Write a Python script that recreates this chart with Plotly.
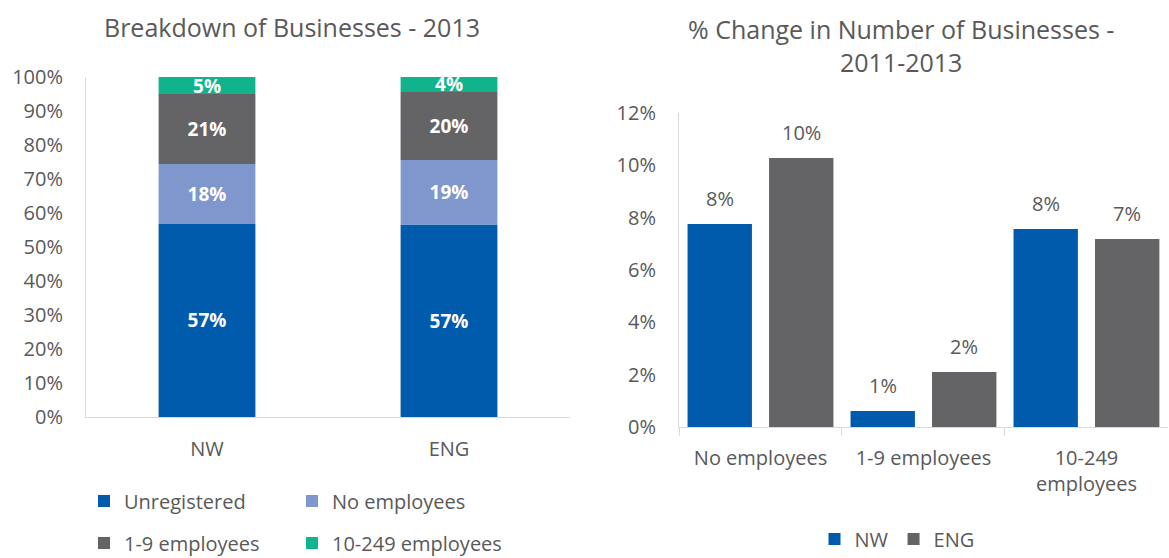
import plotly.graph_objects as go

# Left chart: share of businesses by size band, 2013
regions = ["NW", "ENG"]
unregistered = [0.568, 0.566]
no_employees = [0.176, 0.190]
emp_1_9 = [0.206, 0.200]
emp_10_249 = [0.050, 0.044]

# Right chart: % change in number of businesses, 2011-2013
size_bands = ["No employees", "1-9 employees", "10-249<br>employees"]
change_nw = [0.0776, 0.0061, 0.0757]
change_eng = [0.1028, 0.0210, 0.0718]

BLUE = "#005BAC"
LIGHT_BLUE = "#8097CE"
GREY = "#646466"
GREEN = "#10B38B"
TEXT = "#595959"
AXIS = "#D9D9D9"
FONT = "'Open Sans', sans-serif"

W, H = 1169, 558

fig = go.Figure()

# Stacked columns: each segment starts where the previous one ends.
# Each series gets its own legend box so the key forms a 2x2 grid.
stack = [
    ("Unregistered", unregistered, BLUE, "legend", (84, 501)),
    ("No employees", no_employees, LIGHT_BLUE, "legend2", (292, 501)),
    ("1-9 employees", emp_1_9, GREY, "legend3", (84, 543)),
    ("10-249 employees", emp_10_249, GREEN, "legend4", (292, 543)),
]
legend_font = dict(size=20, color=TEXT, family=FONT)
legend_boxes = {}
running = [0.0] * len(regions)
for name, vals, color, leg, (lx, ly) in stack:
    fig.add_trace(go.Bar(
        x=regions, y=vals, base=list(running), name=name, offsetgroup="stack", width=0.4,
        marker=dict(color=color, line=dict(width=0)),
        texttemplate="%{y:.0%}", textposition="inside", insidetextanchor="middle",
        constraintext="none", textangle=0,
        textfont=dict(color="white", size=19, family=FONT, weight="bold"),
        xaxis="x", yaxis="y", legend=leg, showlegend=True, hoverinfo="skip",
    ))
    running = [r + v for r, v in zip(running, vals)]
    legend_boxes[leg] = dict(orientation="h", x=lx / W, xanchor="left", y=1 - ly / H,
                             yanchor="middle", font=legend_font,
                             bgcolor="rgba(0,0,0,0)")

for name, vals, color in [("NW", change_nw, BLUE), ("ENG", change_eng, GREY)]:
    fig.add_trace(go.Bar(
        x=size_bands, y=vals, name=name, marker=dict(color=color, line=dict(width=0)),
        xaxis="x2", yaxis="y2", legend="legend5", showlegend=True, hoverinfo="skip",
    ))

# Value labels above the grouped bars
n_series = 2
groupgap = 0.21
x2_domain = [679 / W, 0.9991]
cat_px = (x2_domain[1] - x2_domain[0]) * W / len(size_bands)
slot = cat_px / n_series
for j, vals in enumerate([change_nw, change_eng]):
    shift = (j - (n_series - 1) / 2) * slot
    for cat, v in zip(size_bands, vals):
        fig.add_annotation(
            x=cat, y=v, xref="x2", yref="y2", text=f"{v:.0%}", showarrow=False,
            xanchor="center", yanchor="bottom", xshift=shift, yshift=10,
            font=dict(size=20, color=TEXT, family=FONT),
        )

# Chart titles
fig.add_annotation(x=292 / W, y=1 - 27 / H, xref="paper", yref="paper",
                   text="Breakdown of Businesses - 2013", showarrow=False,
                   xanchor="center", yanchor="middle",
                   font=dict(size=25, color=TEXT, family=FONT))
fig.add_annotation(x=901 / W, y=1 - 45 / H, xref="paper", yref="paper",
                   text="% Change in Number of Businesses -<br>2011-2013", showarrow=False,
                   xanchor="center", yanchor="middle",
                   font=dict(size=25, color=TEXT, family=FONT))

tick_font = dict(size=20, color=TEXT, family=FONT)
fig.update_layout(
    width=W, height=H,
    margin=dict(l=0, r=0, t=0, b=0, autoexpand=False),
    paper_bgcolor="white", plot_bgcolor="white",
    showlegend=True,
    barmode="group",
    bargap=0.0, bargroupgap=groupgap,
    font=dict(family=FONT, color=TEXT, size=20),
    xaxis=dict(domain=[86 / W, 570 / W], anchor="y", showline=True, linecolor=AXIS,
               linewidth=1, ticks="", showgrid=False, ticklabelstandoff=14,
               tickfont=legend_font),
    yaxis=dict(domain=[(H - 417) / H, (H - 77) / H], anchor="x", range=[0, 1],
               dtick=0.1, tickformat=".0%", showline=True, linecolor=AXIS,
               showgrid=False, zeroline=False, ticks="", ticklabelstandoff=18,
               tickfont=tick_font),
    xaxis2=dict(domain=x2_domain, anchor="y2", showline=True, linecolor=AXIS,
                linewidth=1, ticks="outside", tickson="boundaries", ticklen=8,
                tickcolor=AXIS, showgrid=False, ticklabelstandoff=13,
                tickfont=legend_font),
    yaxis2=dict(domain=[(H - 427) / H, (H - 113) / H], anchor="x2", range=[0, 0.12],
                dtick=0.02, tickformat=".0%", showline=True, linecolor=AXIS,
                showgrid=False, zeroline=False, ticks="", ticklabelstandoff=18,
                tickfont=tick_font),
    legend5=dict(orientation="h", x=897 / W, xanchor="center", y=1 - 539 / H,
                 yanchor="middle", font=legend_font, bgcolor="rgba(0,0,0,0)",
                 traceorder="normal"),
    **legend_boxes,
)

fig.write_html("out.html")
